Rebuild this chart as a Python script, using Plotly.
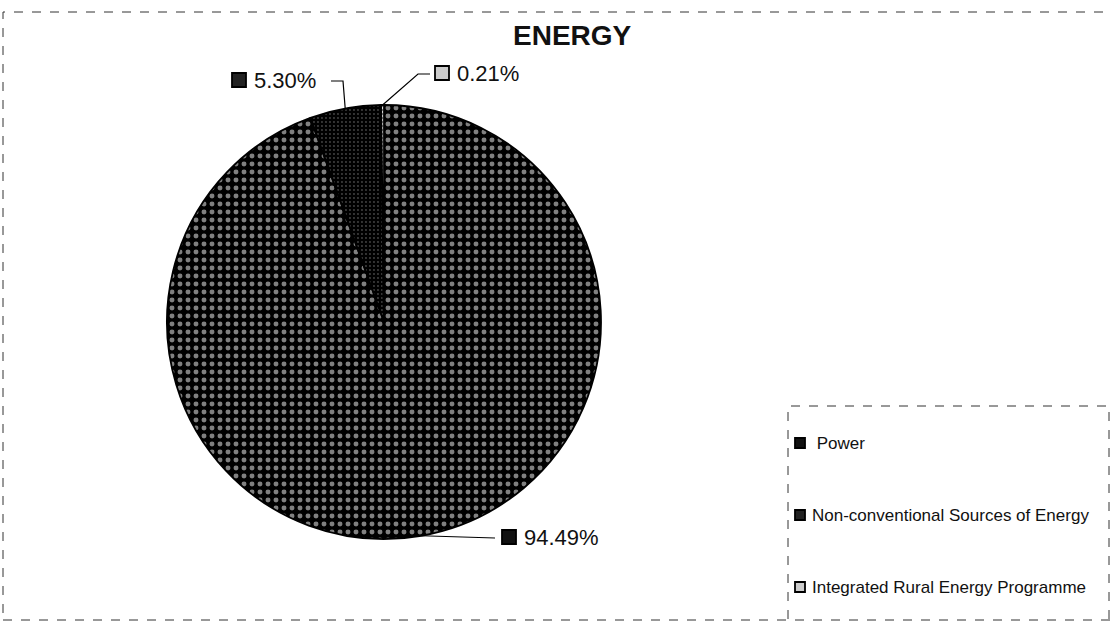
import math
import plotly.graph_objects as go

# ---- data ----
labels = ["Power", "Non-conventional Sources of Energy", "Integrated Rural Energy Programme"]
values = [94.49, 5.30, 0.21]
pct_text = ["94.49%", "5.30%", "0.21%"]
title_text = "ENERGY"

# ---- layout constants (pixels) ----
W, H = 1111, 624
CX, CY, R = 384, 322, 217
FONT = "Liberation Sans, Arial, sans-serif"

def px(x):
    return x / W

def py(y):
    return 1 - y / H

fig = go.Figure(go.Pie(
    labels=labels, values=values, sort=False, direction="clockwise", rotation=0,
    textinfo="none", hoverinfo="label+percent", showlegend=False,
    domain=dict(x=[px(CX - R), px(CX + R)], y=[py(CY + R), py(CY - R)]),
    marker=dict(
        colors=["#000000", "#000000", "#ffffff"],
        line=dict(color="black", width=1.8),
        pattern=dict(shape=[".", ".", "."], fgcolor=["#ffffff", "#8a8a8a", "#000000"],
                     size=[8, 4, 4], solidity=[0.3, 0.18, 0.3], fillmode="overlay"),
    ),
))

shapes = []
annotations = []

# outer dashed frame
shapes.append(dict(type="rect", xref="paper", yref="paper", x0=px(3), x1=px(1113), y0=py(620), y1=py(12),
                   line=dict(color="#333", width=1, dash="dash")))

# title
annotations.append(dict(text="<b>%s</b>" % title_text, x=px(572), y=py(35), xref="paper", yref="paper",
                        showarrow=False, xanchor="center", yanchor="middle",
                        font=dict(family=FONT, size=28, color="#111")))

# label placement: square left x, center y, and leader-line elbow points (pixels)
label_pos = [
    dict(sx=502, sy=537, elbow=[(495, 538)]),
    dict(sx=232, sy=80, elbow=[(343, 81), (331, 81)]),
    dict(sx=435, sy=73, elbow=[(418, 74), (430, 74)]),
]
sq_fill = ["#111", "#222", "#ccc"]

total = sum(values)
cum = 0.0
for i, v in enumerate(values):
    f = (cum + v / 2) / total
    cum += v
    th = 2 * math.pi * f
    tx = CX + R * math.sin(th)
    ty = CY - R * math.cos(th)
    pts = [(tx, ty)] + label_pos[i]["elbow"]
    path = "M " + " L ".join("%f,%f" % (px(a), py(b)) for a, b in pts)
    shapes.append(dict(type="path", path=path, xref="paper", yref="paper",
                       line=dict(color="black", width=1.2)))
    sx, sy = label_pos[i]["sx"], label_pos[i]["sy"]
    shapes.append(dict(type="rect", xref="paper", yref="paper",
                       x0=px(sx), x1=px(sx + 14), y0=py(sy + 7), y1=py(sy - 7),
                       fillcolor=sq_fill[i], line=dict(color="black", width=1.8)))
    annotations.append(dict(text=pct_text[i], x=px(sx + 20), y=py(sy), xref="paper", yref="paper",
                            showarrow=False, xanchor="left", yanchor="middle",
                            font=dict(family=FONT, size=22, color="#111")))

# legend box (drawn manually)
shapes.append(dict(type="rect", xref="paper", yref="paper", x0=px(788), x1=px(1109), y0=py(640), y1=py(406),
                   line=dict(color="#333", width=1, dash="dash")))
leg_y = [443, 515, 587]
for i, lab in enumerate(labels):
    shapes.append(dict(type="rect", xref="paper", yref="paper",
                       x0=px(795), x1=px(805), y0=py(leg_y[i] + 5), y1=py(leg_y[i] - 5),
                       fillcolor=sq_fill[i], line=dict(color="black", width=1.8)))
    annotations.append(dict(text=(" " if i == 0 else "") + lab, x=px(810), y=py(leg_y[i]),
                            xref="paper", yref="paper", showarrow=False, xanchor="left", yanchor="middle",
                            font=dict(family=FONT, size=17, color="#111")))

fig.update_layout(
    width=W, height=H, margin=dict(l=0, r=0, t=0, b=0),
    paper_bgcolor="white", plot_bgcolor="white",
    shapes=shapes, annotations=annotations, showlegend=False,
)

fig.write_html("out.html")
